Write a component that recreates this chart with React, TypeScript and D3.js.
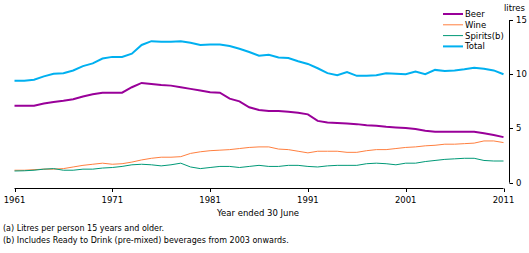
import React from "react";
import * as d3 from "d3";

const years = d3.range(1961, 2012);

const beer = [7.1, 7.1, 7.1, 7.3, 7.45, 7.55, 7.7, 7.95, 8.15, 8.3, 8.3, 8.3, 8.8, 9.2, 9.1, 9.0, 8.95, 8.8, 8.65, 8.5,
  8.35, 8.3, 7.75, 7.5, 6.95, 6.7, 6.6, 6.6, 6.55, 6.45, 6.3, 5.7, 5.55, 5.5, 5.45, 5.4, 5.3, 5.25, 5.15, 5.1,
  5.05, 4.95, 4.8, 4.7, 4.7, 4.7, 4.7, 4.7, 4.55, 4.4, 4.2];
const wine = [1.15, 1.15, 1.2, 1.25, 1.25, 1.3, 1.45, 1.6, 1.7, 1.8, 1.7, 1.75, 1.9, 2.1, 2.25, 2.35, 2.35, 2.4, 2.7, 2.85,
  2.95, 3.0, 3.05, 3.15, 3.25, 3.3, 3.3, 3.1, 3.05, 2.9, 2.75, 2.9, 2.9, 2.9, 2.8, 2.8, 2.95, 3.05, 3.05, 3.15,
  3.25, 3.3, 3.4, 3.45, 3.55, 3.55, 3.6, 3.65, 3.85, 3.85, 3.7];
const spirits = [1.08, 1.1, 1.15, 1.25, 1.3, 1.15, 1.15, 1.25, 1.25, 1.35, 1.4, 1.5, 1.65, 1.7, 1.65, 1.55, 1.65, 1.8, 1.45, 1.3,
  1.4, 1.5, 1.5, 1.4, 1.5, 1.6, 1.5, 1.5, 1.6, 1.6, 1.5, 1.45, 1.55, 1.6, 1.6, 1.6, 1.75, 1.8, 1.75, 1.65,
  1.8, 1.8, 1.95, 2.05, 2.15, 2.2, 2.25, 2.25, 2.05, 2.0, 2.0];
const total = [9.4, 9.4, 9.5, 9.8, 10.05, 10.1, 10.35, 10.75, 11.0, 11.45, 11.6, 11.6, 11.9, 12.7, 13.05, 13.0, 13.0, 13.05, 12.9, 12.7,
  12.75, 12.75, 12.6, 12.35, 12.05, 11.7, 11.8, 11.55, 11.5, 11.2, 10.95, 10.55, 10.1, 9.9, 10.2, 9.85, 9.85, 9.9, 10.1, 10.05,
  10.0, 10.25, 10.0, 10.4, 10.3, 10.35, 10.45, 10.6, 10.5, 10.35, 10.0];

const xTicks = [1961, 1971, 1981, 1991, 2001, 2011];
const yTicks = [0, 5, 10, 15];

const series = [
  { name: "Beer", values: beer, color: "#990099", width: 2 },
  { name: "Wine", values: wine, color: "#ff7f3f", width: 1 },
  { name: "Spirits(b)", values: spirits, color: "#009977", width: 1 },
  { name: "Total", values: total, color: "#00b0f0", width: 2 },
];

const font = "'DejaVu Sans', sans-serif";

export default function App() {
  const x = d3.scaleLinear().domain([1961, 2011]).range([14.5, 503.5]);
  const y = d3.scaleLinear().domain([0, 15]).range([182.7, 20]);
  const line = d3.line<number>().x((_, i) => x(years[i])).y((d) => y(d));

  return (
    <svg width={529} height={253} style={{ position: "absolute", left: 0, top: 0, fontFamily: font }}>
      <rect width={529} height={253} fill="#fff" />
      {/* x axis */}
      <line x1={x(1961)} x2={x(2011)} y1={188.5} y2={188.5} stroke="#000" />
      {xTicks.map((t) => (
        <g key={t}>
          <line x1={Math.round(x(t)) + 0.5} x2={Math.round(x(t)) + 0.5} y1={188.5} y2={192} stroke="#000" />
          <text x={x(t)} y={203} fontSize={8.5} textAnchor="middle">{t}</text>
        </g>
      ))}
      <text x={258} y={216} fontSize={8.5} textAnchor="middle">Year ended 30 June</text>
      {/* y axis */}
      <line x1={509.5} x2={509.5} y1={y(15)} y2={y(0)} stroke="#000" />
      {yTicks.map((t) => (
        <g key={t}>
          <line x1={509.5} x2={513} y1={Math.round(y(t)) + 0.5} y2={Math.round(y(t)) + 0.5} stroke="#000" />
          <text x={516} y={y(t) + 3} fontSize={8.5}>{t}</text>
        </g>
      ))}
      <text x={504} y={11} fontSize={8.5}>litres</text>
      {/* lines */}
      {series.map((s) => (
        <path key={s.name} d={line(s.values) ?? ""} fill="none" stroke={s.color} strokeWidth={s.width} />
      ))}
      {/* legend */}
      {series.map((s, i) => (
        <g key={s.name} transform={`translate(443,${14 + i * 10.8})`}>
          <line x1={0} x2={20} y1={0} y2={0} stroke={s.color} strokeWidth={s.width} />
          <text x={22} y={3} fontSize={8.5}>{s.name}</text>
        </g>
      ))}
      <text x={3} y={231} fontSize={8}>(a) Litres per person 15 years and older.</text>
      <text x={3} y={243} fontSize={8}>(b) Includes Ready to Drink (pre-mixed) beverages from 2003 onwards.</text>
    </svg>
  );
}
